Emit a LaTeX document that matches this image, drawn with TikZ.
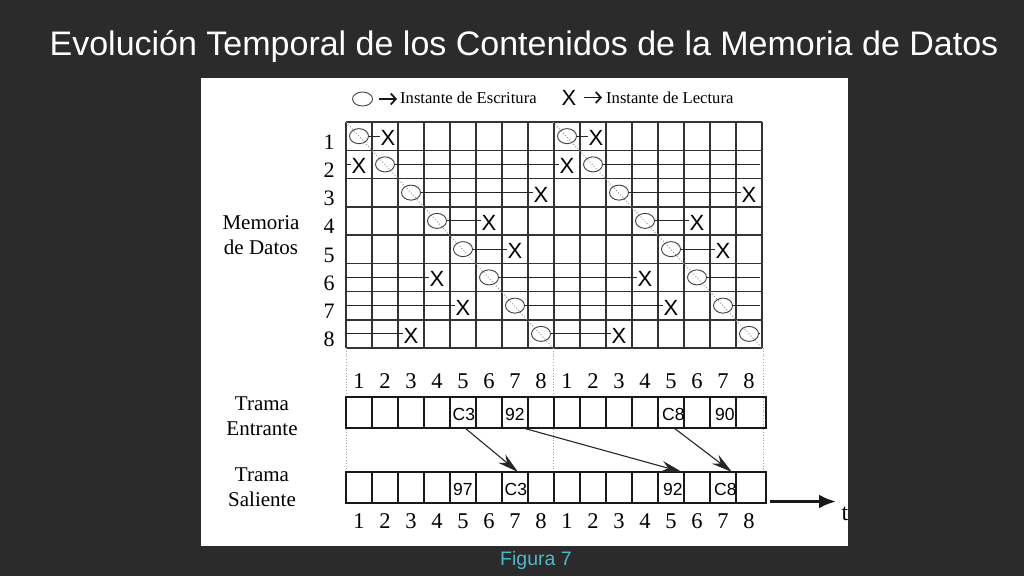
\documentclass[tikz,border=0pt]{standalone}
\usepackage{fontspec}
\setmainfont{Liberation Serif}
\newfontfamily\arial{Liberation Sans}
\usetikzlibrary{arrows.meta,calc,shapes.geometric}
\definecolor{bg}{HTML}{2B2B2B}
\definecolor{gridc}{HTML}{333333}
\definecolor{teal7}{HTML}{4FB8C8}
\begin{document}
\begin{tikzpicture}[x=1pt,y=-1pt,
  gridline/.style={draw=gridc,line width=1.5pt},
  memo/.style={ellipse,draw=black!75,line width=0.9pt,minimum width=19pt,minimum height=15pt,inner sep=0pt},
  xmark/.style={font=\arial\fontsize{22}{22}\selectfont,inner sep=0pt,text=black},
  life/.style={draw=black!85,line width=1pt},
  diag/.style={draw=black!40,dotted,line width=1pt},
  vdot/.style={draw=black!35,dotted,line width=0.8pt},
  cellbox/.style={draw=black!90,line width=2.8pt,minimum width=26pt,minimum height=31pt,inner sep=0pt,outer sep=0pt},
  celltxt/.style={font=\arial\fontsize{17.5}{17.5}\selectfont,inner sep=0pt,anchor=base west},
  num/.style={font=\fontsize{22.5}{22.5}\selectfont,inner sep=0pt,anchor=base},
  lab/.style={font=\fontsize{21}{21}\selectfont,inner sep=0pt,anchor=base},
  legtxt/.style={font=\fontsize{16.6}{16.6}\selectfont,inner sep=0pt,anchor=base west},
  legarrow/.style={draw=black!90,line width=1.8pt,-{Straight Barb[length=5pt,width=11pt]}},
  flow/.style={draw=black!85,line width=1.1pt,-{Stealth[length=21pt,width=11pt]}},
]
\useasboundingbox (0,0) rectangle (1024,576);
\fill[bg] (0,0) rectangle (1024,576);
\fill[white] (201,78) rectangle (848,546);

% title and caption
\node[font=\arial\fontsize{34}{34}\selectfont,text=white,anchor=base,inner sep=0pt] (title) at (524,55) {Evolución Temporal de los Contenidos de la Memoria de Datos};
\node[font=\arial\fontsize{19.5}{19.5}\selectfont,text=teal7,anchor=base,inner sep=0pt] (caption) at (536,565) {Figura 7};

% legend
\node[memo,minimum width=20pt,minimum height=14pt] (legO) at (362.5,99) {};
\node[legtxt] (legW) at (400,103) {Instante de Escritura};
\draw[legarrow,shorten <=6pt,shorten >=3pt] (legO.east) -- (legW.west |- legO.east);
\node[xmark] (legX) at (569,97.5) {X};
\node[legtxt] (legR) at (606,103) {Instante de Lectura};
\draw[legarrow,shorten <=7pt,shorten >=4pt] (legX.east) -- (legR.west |- legX.east);

% grid
\foreach \i in {0,...,16} \draw[gridline] ({346+26*\i},122) -- ({346+26*\i},348);
\foreach \j in {0,...,8} \draw[gridline] (346,{122+28.25*\j}) -- (762,{122+28.25*\j});

% diagonals
\draw[diag] (346,122) -- (553,348);
\draw[diag] (553,122) -- (762,348);
% vertical dotted frame limits
\draw[vdot] (346,348) -- (346,472);
\draw[vdot] (553,348) -- (553,472);
\draw[vdot] (763,348) -- (763,472);

% row labels and side labels
\foreach \r in {1,...,8} \node[lab,font=\fontsize{22}{22}\selectfont] (row\r) at (329,{107.875+28.25*\r+13}) {\r};
\node[lab] (mem1) at (261,229) {Memoria};
\node[lab] (mem2) at (261,254) {de Datos};
\node[lab] (te1) at (262,410) {Trama};
\node[lab] (te2) at (262,435) {Entrante};
\node[lab] (ts1) at (262,481.5) {Trama};
\node[lab] (ts2) at (262,506.5) {Saliente};

% write instants
\foreach \r in {1,...,8}{
  \node[memo] (O-\r-\r) at ({333+26*\r},{107.875+28.25*\r}) {};
  \pgfmathtruncatemacro\cc{\r+8}
  \node[memo] (O-\r-\cc) at ({333+26*\cc},{107.875+28.25*\r}) {};
}
% read instants
\foreach \r/\c/\dx in {1/2/3,2/1/0,3/8/0,4/6/0,5/7/0,6/4/0,7/5/0,8/3/0,1/10/3,2/9/0,3/16/0,4/14/0,5/15/0,6/12/0,7/13/0,8/11/0}
  \node[xmark] (X-\r-\c) at ({333+26*\c+\dx},{107.875+28.25*\r+2}) {X};

% storage lifetimes
\foreach \r/\a/\b in {1/1/2,3/3/8,4/4/6,5/5/7,1/9/10,3/11/16,4/12/14,5/13/15,2/2/9,6/6/12,7/7/13,8/8/11}
  \draw[life] (O-\r-\a.east) -- (X-\r-\b.west |- O-\r-\a.east);
\foreach \r/\b in {2/1,6/4,7/5,8/3}{
  \coordinate (L-\r) at (347,{107.875+28.25*\r});
  \draw[life] (L-\r) -- (X-\r-\b.west |- L-\r);
}
\foreach \r/\a in {2/10,6/14,7/15,8/16}{
  \coordinate (R-\r) at (760,{107.875+28.25*\r});
  \draw[life] (O-\r-\a.east) -- (R-\r);
}

% column numbers
\foreach \i in {1,...,16}{
  \pgfmathtruncatemacro\d{mod(\i-1,8)+1}
  \node[num] (nt\i) at ({333+26*\i},388) {\d};
  \node[num] (nb\i) at ({333+26*\i},528) {\d};
}

% frames
\foreach \i in {1,...,15}{
  \node[cellbox] (E\i) at ({333+26*\i},412.5) {};
  \node[cellbox] (S\i) at ({333+26*\i},487.5) {};
}
\node[cellbox,minimum width=30pt] (E16) at (751,412.5) {};
\node[cellbox,minimum width=30pt] (S16) at (751,487.5) {};

\node[celltxt] (tE5) at ($(E5.west)+(2.5,7.5)$) {C3};
\node[celltxt] (tE7) at ($(E7.west)+(3,7.5)$) {92};
\node[celltxt] (tE13) at ($(E13.west)+(4,7.5)$) {C8};
\node[celltxt] (tE15) at ($(E15.west)+(5,7.5)$) {90};
\node[celltxt] (tS5) at ($(S5.west)+(3,7.5)$) {97};
\node[celltxt] (tS7) at ($(S7.west)+(2.5,7.5)$) {C3};
\node[celltxt] (tS13) at ($(S13.west)+(5,7.5)$) {92};
\node[celltxt] (tS15) at ($(S15.west)+(4,7.5)$) {C8};

% switching arrows
\draw[flow] ($(E5.south)+(2,0)$) -- ($(S7.north)+(3,0)$);
\draw[flow] ($(E7.south)+(8,0)$) -- ($(S13.north)+(11,0)$);
\draw[flow] ($(E13.south)+(3,0)$) -- ($(S15.north)+(9,0)$);

% time axis
\coordinate (t0) at (770,501.5);
\coordinate (t1) at (836,501.5);
\draw[draw=black!90,line width=3pt,-{Latex[length=17pt,width=14pt]}] (t0) -- (t1);
\node[font=\fontsize{24}{24}\selectfont,anchor=base,inner sep=0pt] (tl) at (845,520) {t};
\end{tikzpicture}
\end{document}
